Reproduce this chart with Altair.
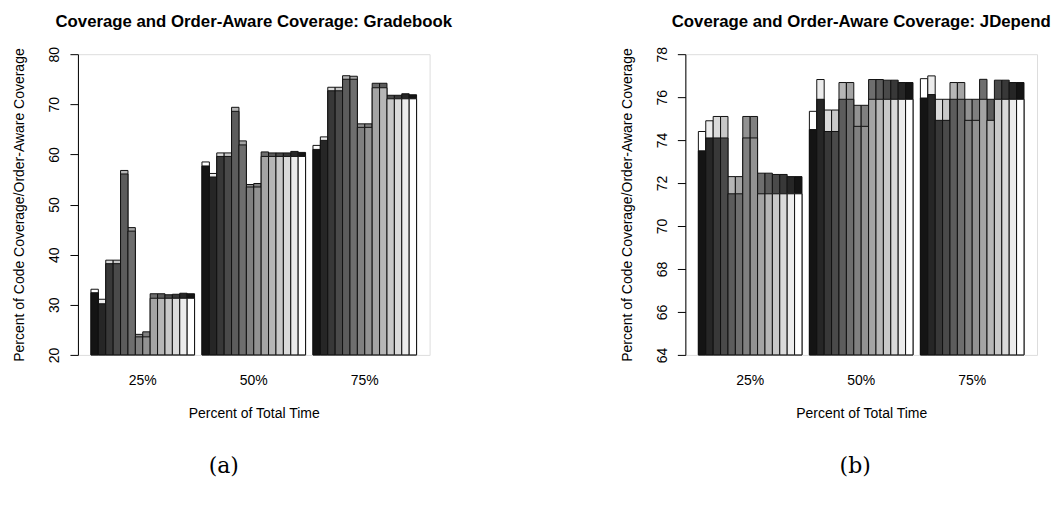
import altair as alt
import pandas as pd

# ---- data ----
groups = ["25%", "50%", "75%"]
bars = list(range(1, 15))

# Gradebook: coverage (drawn behind) and order-aware coverage (drawn in front)
g_cov_25 = [33.1, 31.1, 38.9, 38.9, 56.8, 45.4, 24.1, 24.6, 32.2, 32.2, 32.0, 32.1, 32.3, 32.2]
g_oa_25 = [32.4, 30.2, 38.2, 38.2, 56.1, 44.7, 23.6, 23.6, 31.3, 31.3, 31.3, 31.3, 31.3, 31.3]
g_cov_50 = [58.5, 56.2, 60.3, 60.3, 69.4, 62.7, 54.0, 54.2, 60.5, 60.3, 60.3, 60.3, 60.6, 60.4]
g_oa_50 = [57.7, 55.5, 59.6, 59.6, 68.6, 61.9, 53.5, 53.5, 59.6, 59.6, 59.6, 59.6, 59.6, 59.6]
g_cov_75 = [61.8, 63.5, 73.4, 73.4, 75.7, 75.6, 66.1, 66.1, 74.2, 74.2, 71.8, 71.8, 72.1, 71.9]
g_oa_75 = [61.0, 62.8, 72.7, 72.7, 75.0, 75.0, 65.4, 65.4, 73.3, 73.3, 71.1, 71.1, 71.1, 71.1]

# JDepend
j_cov_25 = [74.4, 74.9, 75.1, 75.1, 72.3, 72.3, 75.1, 75.1, 72.46, 72.46, 72.4, 72.4, 72.3, 72.3]
j_oa_25 = [73.5, 74.1, 74.1, 74.1, 71.5, 71.5, 74.1, 74.1, 71.5, 71.5, 71.5, 71.5, 71.5, 71.5]
j_cov_50 = [75.34, 76.82, 75.4, 75.4, 76.68, 76.68, 75.62, 75.62, 76.82, 76.82, 76.79, 76.79, 76.68, 76.68]
j_oa_50 = [74.49, 75.9, 74.4, 74.4, 75.9, 75.9, 74.64, 74.64, 75.9, 75.9, 75.9, 75.9, 75.9, 75.9]
j_cov_75 = [76.86, 76.99, 75.9, 75.9, 76.68, 76.68, 75.9, 75.9, 76.83, 75.9, 76.79, 76.79, 76.68, 76.68]
j_oa_75 = [75.96, 76.12, 74.92, 74.92, 75.9, 75.9, 74.92, 74.92, 75.9, 74.92, 75.9, 75.9, 75.9, 75.9]

grays = ["#141414", "#262626", "#383838", "#4a4a4a", "#5c5c5c", "#6e6e6e", "#808080",
         "#929292", "#a4a4a4", "#b6b6b6", "#c8c8c8", "#dadada", "#ececec", "#ffffff"]

FONT = "Liberation Sans"


def make_df(covs, oas):
    rows = []
    for g, cov, oa in zip(groups, covs, oas):
        for b, c, o in zip(bars, cov, oa):
            rows.append({"group": g, "bar": b, "cov": c, "oa": o})
    return pd.DataFrame(rows)


def panel(df, title, ymin, ymax, tick_values, label_expr, caption, cap_x):
    x = alt.X("group:N", sort=groups,
              scale=alt.Scale(paddingInner=1 / 15, paddingOuter=0.1173),
              axis=alt.Axis(title="Percent of Total Time", labelAngle=0, ticks=False,
                            domain=False, labelPadding=19, titlePadding=19,
                            labelFontSize=14, titleFontSize=14, labelFont=FONT,
                            titleFont=FONT, titleFontWeight="normal",
                            labelColor="black", titleColor="black"))
    xo = alt.XOffset("bar:O", sort=bars, scale=alt.Scale(paddingInner=0, paddingOuter=0))
    yscale = alt.Scale(domain=[ymin, ymax], nice=False, zero=False)
    yaxis = alt.Axis(title="Percent of Code Coverage/Order-Aware Coverage",
                     values=tick_values, labelExpr=label_expr, grid=False,
                     tickSize=8, tickColor="black", domainColor="black",
                     labelAngle=270, labelAlign="center", labelBaseline="bottom",
                     labelPadding=8, titlePadding=21, labelFontSize=14,
                     titleFontSize=14, labelFont=FONT, titleFont=FONT,
                     titleFontWeight="normal", labelColor="black", titleColor="black")
    base = alt.Chart(df)
    cov = base.mark_bar(stroke="#111111", strokeWidth=1).encode(
        x=x, xOffset=xo,
        y=alt.Y("cov:Q", scale=yscale, axis=yaxis),
        y2=alt.datum(ymin),
        color=alt.Color("bar:O", scale=alt.Scale(domain=bars, range=grays[::-1]), legend=None),
    )
    oa = base.mark_bar(stroke="#111111", strokeWidth=1).encode(
        x=x, xOffset=xo,
        y=alt.Y("oa:Q", scale=yscale),
        y2=alt.datum(ymin),
        color=alt.Color("bar:O", scale=alt.Scale(domain=bars, range=grays), legend=None),
    )
    cap = alt.Chart(pd.DataFrame({"t": [caption]})).mark_text(
        font="DejaVu Serif", fontSize=22, color="black", align="center", baseline="middle"
    ).encode(text="t:N", x=alt.value(cap_x), y=alt.value(412))
    return alt.layer(cov, oa, cap).resolve_scale(color="independent").properties(
        width=352, height=301,
        title=alt.TitleParams(title, fontSize=16.8, fontWeight="bold", font=FONT,
                              color="black", anchor="middle", offset=16),
    )


left = panel(make_df([g_cov_25, g_cov_50, g_cov_75], [g_oa_25, g_oa_50, g_oa_75]),
             "Coverage and Order-Aware Coverage: Gradebook", 20, 80,
             list(range(20, 81, 5)), "datum.value % 10 == 0 ? datum.label : ''", "(a)", 146)
right = panel(make_df([j_cov_25, j_cov_50, j_cov_75], [j_oa_25, j_oa_50, j_oa_75]),
              "Coverage and Order-Aware Coverage: JDepend", 64, 78,
              list(range(64, 79, 2)), "datum.label", "(b)", 170)

chart = alt.hconcat(left, right, spacing=256, bounds="flush").properties(
    padding={"left": 4, "top": 4, "right": 0, "bottom": 5}
).configure_view(
    stroke="#555555", strokeWidth=1
).configure(background="white")

chart.save("out.html", embed_options={"renderer": "svg", "actions": False})
